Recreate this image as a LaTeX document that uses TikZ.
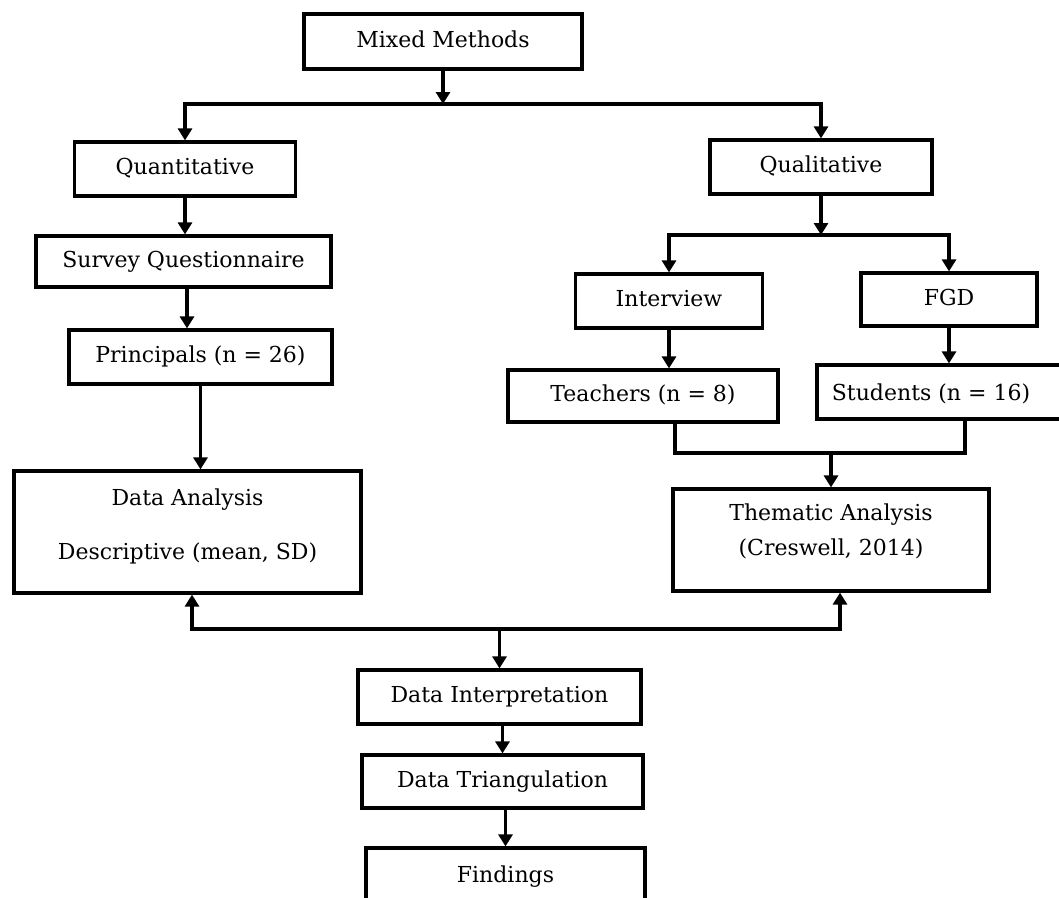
\documentclass[tikz,border=0pt]{standalone}
\usepackage{fontspec}
\newfontfamily\boxserif{DejaVu Serif}
\usetikzlibrary{arrows.meta}
\newcommand\boxfont{\boxserif\fontsize{22}{26}\selectfont}
\begin{document}
\begin{tikzpicture}[x=1pt,y=-1pt,
  lw/.style={line width=3.2pt},
  box/.style={draw, lw, inner sep=0pt, text height=16pt, text depth=5pt, font=\boxfont},
  txt/.style={inner sep=0pt, font=\boxfont, anchor=base},
  arr/.style={lw, -{Triangle[width=14pt,length=12pt]}},
  ln/.style={lw}]
\useasboundingbox (0,0) rectangle (1059,897);
\clip (0,0) rectangle (1059,897);

\node[box, minimum width=278, minimum height=55] (mm) at (443,41.5) {Mixed Methods};
\node[box, minimum width=221, minimum height=54] (quant) at (185,169) {Quantitative};
\node[box, minimum width=222, minimum height=54] (qual) at (821,167) {Qualitative};
\node[box, minimum width=295, minimum height=51] (survey) at (183.5,261.5) {Survey Questionnaire};
\node[box, minimum width=263, minimum height=54] (princ) at (200.5,357) {Principals (n = 26)};
\node[box, minimum width=187, minimum height=54] (intv) at (669,301) {Interview};
\node[box, minimum width=176, minimum height=53] (fgd) at (949,299.5) {FGD};
\node[box, minimum width=270, minimum height=52] (teach) at (643,396) {Teachers (n = 8)};
\node[box, minimum width=263, minimum height=54] (stud) at (948.5,392) {};
\node[txt] (studt) at (931,400) {Students (n = 16)};
\node[box, minimum width=347, minimum height=122] (da) at (187.5,532) {};
\node[txt] (da1) at (187.5,505) {Data Analysis};
\node[txt] (da2) at (187.5,559) {Descriptive (mean, SD)};
\node[box, minimum width=316, minimum height=102] (them) at (831,540) {};
\node[txt] (th1) at (831,520) {Thematic Analysis};
\node[txt] (th2) at (831,555) {(Creswell, 2014)};
\node[box, minimum width=283, minimum height=54] (di) at (499.5,697) {Data Interpretation};
\node[box, minimum width=281, minimum height=53] (dt) at (502.5,781.5) {Data Triangulation};
\node[box, minimum width=279, minimum height=90] (fnd) at (505.5,893) {};
\node[txt] (fndt) at (505.5,882) {Findings};

\coordinate (j1) at (443,104);
\draw[arr] (mm.south) -- (j1);
\draw[arr] (j1) -| (quant.north);
\draw[arr] (j1) -| (qual.north);
\draw[arr] (quant.south) -- (quant.south |- survey.north);
\draw[arr] ([xshift=3.5pt]survey.south) -- ([xshift=3.5pt]survey.south |- princ.north);
\draw[arr] (princ.south) -- (princ.south |- da.north);

\coordinate (j2) at (821,235);
\draw[arr] (qual.south) -- (j2);
\draw[arr] (j2) -| (intv.north);
\draw[arr] (j2) -| (fgd.north);
\draw[arr] (intv.south) -- (intv.south |- teach.north);
\draw[arr] (fgd.south) -- (fgd.south |- stud.north);

\coordinate (j3) at (831,453);
\draw[ln] ([xshift=32pt]teach.south) |- ([xshift=16.5pt]stud.south |- j3) -- ([xshift=16.5pt]stud.south);
\draw[arr] (j3) -- (them.north);

\coordinate (j4) at (499.5,629);
\draw[arr] (j4) -| ([xshift=4.5pt]da.south);
\draw[arr] (j4) -| ([xshift=9pt]them.south);
\draw[arr] (j4) -- (di.north);
\draw[arr] (di.south -| dt.north) -- (dt.north);
\draw[arr] (dt.south -| fnd.north) -- (fnd.north);
\end{tikzpicture}
\end{document}
